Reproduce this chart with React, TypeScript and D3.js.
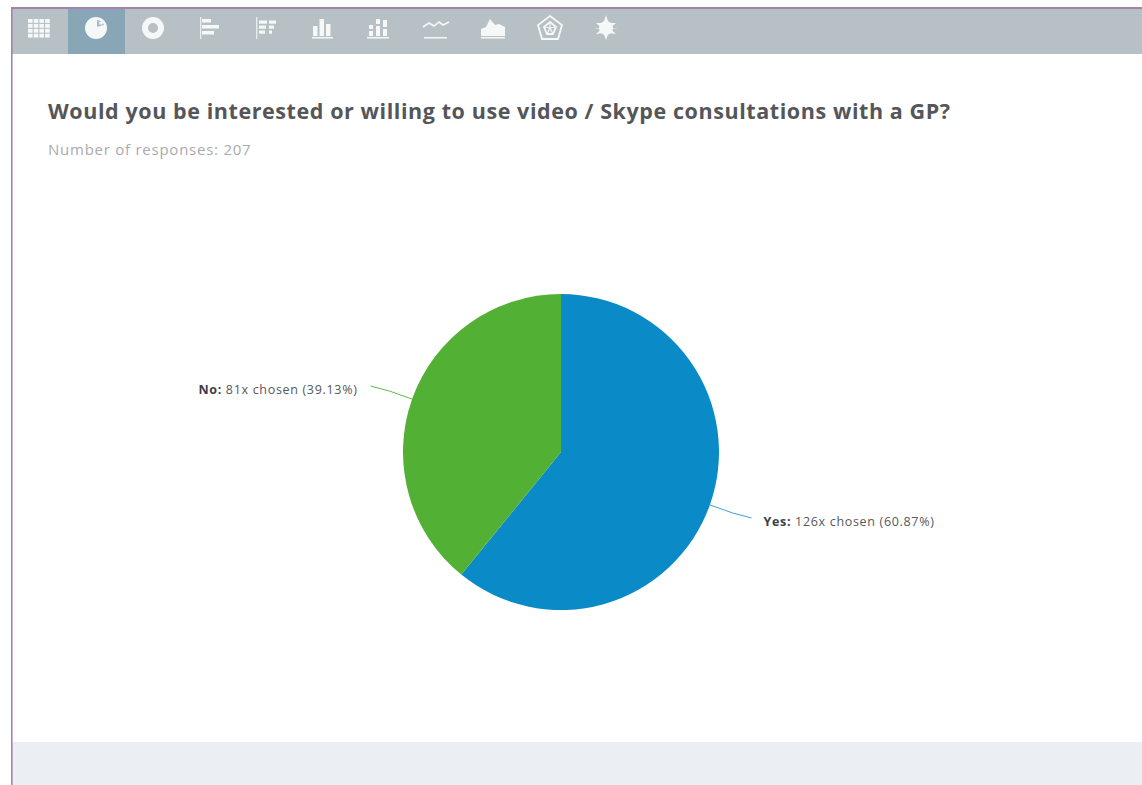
import React from "react";
import * as d3 from "d3";

const WIDTH = 1142;
const HEIGHT = 785;

const categories = ["Yes", "No"];
const counts = [126, 81];
const percentLabels = ["60.87%", "39.13%"];
const sliceColors = ["#0a8bc8", "#52b035"];
const leaderColors = ["#3f9fce", "#62b84a"];
const titleText = "Would you be interested or willing to use video / Skype consultations with a GP?";
const responsesText = "Number of responses: 207";

const toolbarIconCenters = [39, 96, 153, 209, 266, 323, 379, 436, 493, 550, 606];

const FONT = "'Open Sans', sans-serif";

// Toolbar glyphs, each drawn around its own centre.
function ToolbarIcon({ index }: { index: number }) {
  const white = "#f6f8f8";
  const rows = [-6, -1, 4];
  switch (index) {
    case 0:
      return (
        <g fill={white}>
          {d3.range(4).flatMap((r) =>
            d3.range(4).map((c) => (
              <rect key={`${r}-${c}`} x={-11 + c * 5.7} y={-9 + r * 4.9} width={4.6} height={3.9} />
            ))
          )}
        </g>
      );
    case 1:
      return (
        <g>
          <circle r={11} fill={white} />
          <path d="M1,-1L1,-8A8,8 0 0 1 8,-3Z" fill="#a9bec8" />
          <circle cx={5} cy={-5} r={1.8} fill={white} />
        </g>
      );
    case 2:
      return <circle r={8} fill="none" stroke={white} strokeWidth={6} />;
    case 3:
      return (
        <g fill={white}>
          <rect x={-9} y={-11} width={1.3} height={22} opacity={0.8} />
          <rect x={-7} y={-9} width={9} height={3.5} />
          <rect x={-7} y={-3} width={17} height={3.5} />
          <rect x={-7} y={3} width={12} height={3.5} />
        </g>
      );
    case 4:
      return (
        <g fill={white}>
          <rect x={-10} y={-11} width={1.3} height={22} opacity={0.8} />
          {rows.map((y, i) => (
            <g key={y}>
              <rect x={-7} y={y - 1.5} width={8 - i} height={3.2} />
              <rect x={3} y={y - 1.5} width={7 - i * 2} height={3.2} />
            </g>
          ))}
        </g>
      );
    case 5:
      return (
        <g fill={white}>
          <rect x={-10} y={-2} width={4.5} height={10} />
          <rect x={-3.5} y={-9} width={4.5} height={17} />
          <rect x={3} y={-4} width={4.5} height={12} />
          <rect x={-11} y={9} width={21} height={1.5} />
        </g>
      );
    case 6:
      return (
        <g fill={white}>
          <rect x={-10} y={-3} width={4} height={4} />
          <rect x={-10} y={3} width={4} height={5} />
          <rect x={-3} y={-9} width={4} height={5} />
          <rect x={-3} y={-2} width={4} height={10} />
          <rect x={4} y={-8} width={4} height={7} />
          <rect x={4} y={1} width={4} height={7} />
          <rect x={-12} y={9} width={22} height={1.5} />
        </g>
      );
    case 7:
      return (
        <g>
          <path d="M-13,-1L-7,-5L-2,-2L3,-6L7,-3L13,-6" fill="none" stroke={white} strokeWidth={1.6} />
          <rect x={-12} y={9} width={23} height={1.5} fill={white} />
        </g>
      );
    case 8:
      return (
        <g fill={white}>
          <path d="M-12,8L-12,1L-7,-1L-3,-9L2,-3L6,-4L12,-1L12,8Z" />
          <rect x={-12} y={9} width={24} height={1.5} />
        </g>
      );
    case 9:
      return (
        <g fill="none" stroke={white} strokeWidth={1.8}>
          <path d="M0,-12L12,-3L8,11L-8,11L-12,-3Z" />
          <path d="M0,-6L6,-1L3,6L-3,6L-6,-1Z" />
          <path d="M0,-6L0,0M6,-1L0,0M3,6L0,0M-3,6L0,0M-6,-1L0,0" strokeWidth={1.2} />
        </g>
      );
    default:
      return (
        <g fill={white}>
          <path d="M0,-13L2.5,-5L10,-5L4.5,0L12,0L4.5,1L10,6L2.5,5L0,12L-2.5,5L-10,6L-4.5,1L-12,0L-4.5,0L-10,-5L-2.5,-5Z" />
          <circle r={7} />
        </g>
      );
  }
}

export default function App() {
  const cx = 561;
  const cy = 452;
  const radius = 158;

  const pie = d3.pie<number>().sort(null).startAngle(0).endAngle(2 * Math.PI);
  const arcs = pie(counts);
  const arc = d3.arc<d3.PieArcDatum<number>>().innerRadius(0).outerRadius(radius);

  const onCircle = (angle: number, r: number): [number, number] => [
    r * Math.sin(angle),
    -r * Math.cos(angle),
  ];
  const leaderLine = d3.line();

  return (
    <svg
      width={WIDTH}
      height={HEIGHT}
      viewBox={`0 0 ${WIDTH} ${HEIGHT}`}
      style={{ position: "fixed", left: 0, top: 0, display: "block" }}
      fontFamily={FONT}
    >
      <rect width={WIDTH} height={HEIGHT} fill="#ffffff" />

      {/* Page frame, footer band and toolbar */}
      <rect x={12} y={742} width={WIDTH - 12} height={HEIGHT - 742} fill="#ebeef2" />
      <rect x={12} y={8} width={WIDTH - 12} height={46} fill="#b6c0c5" />
      <rect x={68} y={9} width={57} height={45} fill="#88a6b6" />
      <rect x={11} y={7} width={WIDTH - 11} height={2} fill="#a583ab" />
      <rect x={11} y={7} width={1.6} height={HEIGHT - 7} fill="#a583ab" />
      {toolbarIconCenters.map((x, i) => (
        <g key={x} transform={`translate(${x},28)`}>
          <ToolbarIcon index={i} />
        </g>
      ))}

      <text x={48} y={118.5} fontSize={21.5} letterSpacing={0.58} fontWeight={700} fill="#54565a">
        {titleText}
      </text>
      <text x={48} y={155} fontSize={15} letterSpacing={0.75} fill="#a9abad">
        {responsesText}
      </text>

      <g transform={`translate(${cx},${cy})`}>
        {arcs.map((d, i) => (
          <path key={categories[i]} d={arc(d) ?? ""} fill={sliceColors[i]} />
        ))}
        {arcs.map((d, i) => {
          const mid = (d.startAngle + d.endAngle) / 2;
          const [x0, y0] = onCircle(mid, radius);
          const [x1, y1] = onCircle(mid, radius + 24);
          const dir = x0 > 0 ? 1 : -1;
          const x2 = x1 + dir * 19;
          const y2 = y1 + dir * 5;
          return (
            <path
              key={categories[i]}
              d={leaderLine([[x0, y0], [x1, y1], [x2, y2]]) ?? ""}
              fill="none"
              stroke={leaderColors[i]}
              strokeWidth={1}
            />
          );
        })}
        {arcs.map((d, i) => {
          const mid = (d.startAngle + d.endAngle) / 2;
          const [x1, y1] = onCircle(mid, radius + 24);
          const right = x1 > 0;
          return (
            <text
              key={categories[i]}
              x={x1 + (right ? 31 : -32)}
              y={y1 + (right ? 13 : 3)}
              textAnchor={right ? "start" : "end"}
              fontSize={12.5}
              letterSpacing={0.68}
              fill="#55585c"
            >
              <tspan fontWeight={700} fill="#3c3e42">{`${categories[i]}:`}</tspan>
              {` ${d.data}x chosen (${percentLabels[i]})`}
            </text>
          );
        })}
      </g>
    </svg>
  );
}
